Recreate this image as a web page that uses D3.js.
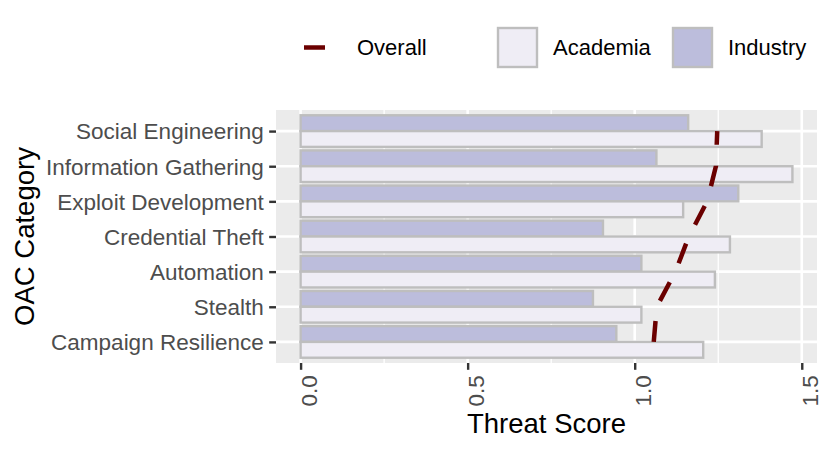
<!DOCTYPE html>
<html>
<head>
<meta charset="utf-8">
<script src="https://cdn.jsdelivr.net/npm/d3@7"></script>
<style>
  body { margin: 0; background: #fff; }
  text { font-family: "Liberation Sans", Arial, Helvetica, sans-serif; }
</style>
</head>
<body>
<svg id="chart" width="830" height="453"></svg>
<script>
// categories top to bottom
var categories = ['Social Engineering', 'Information Gathering', 'Exploit Development',
  'Credential Theft', 'Automation', 'Stealth', 'Campaign Resilience']
var industry = [1.16, 1.065, 1.31, 0.905, 1.02, 0.875, 0.945]
var academia = [1.38, 1.472, 1.145, 1.285, 1.24, 1.02, 1.205]
var overall = [1.247, 1.243, 1.217, 1.162, 1.122, 1.066, 1.057]
var xTicks = [0, 0.5, 1.0, 1.5]
var xMinor = [0.25, 0.75, 1.25]

var color = { Academia: '#efedf5', Industry: '#bcbddc', Overall: '#6b0000' }

var svg = d3.select('#chart')
var panel = { left: 276, right: 817, top: 110, bottom: 363 }

// continuous scale with 5% expansion like ggplot
var maxV = d3.max(academia.concat(industry, overall))
var pad = maxV * 0.05
var x = d3.scaleLinear().domain([0 - pad, maxV + pad]).range([panel.left, panel.right])
var y = d3.scalePoint().domain(categories).range([panel.top, panel.bottom]).padding(0.6)
var half = y.step() * 0.45

var rows = categories.map(function (c, i) {
  return { cat: c, industry: industry[i], academia: academia[i], overall: overall[i] }
})

// panel background + grid
svg.append('rect').attr('x', panel.left).attr('y', panel.top)
  .attr('width', panel.right - panel.left).attr('height', panel.bottom - panel.top)
  .attr('fill', '#ebebeb')

svg.selectAll('.minor').data(xMinor).enter().append('line')
  .attr('x1', d => x(d)).attr('x2', d => x(d))
  .attr('y1', panel.top).attr('y2', panel.bottom)
  .attr('stroke', '#fff').attr('stroke-width', 1.3)

svg.selectAll('.majorx').data(xTicks).enter().append('line')
  .attr('x1', d => x(d)).attr('x2', d => x(d))
  .attr('y1', panel.top).attr('y2', panel.bottom)
  .attr('stroke', '#fff').attr('stroke-width', 2.6)

svg.selectAll('.majory').data(categories).enter().append('line')
  .attr('x1', panel.left).attr('x2', panel.right)
  .attr('y1', d => y(d)).attr('y2', d => y(d))
  .attr('stroke', '#fff').attr('stroke-width', 2.6)

// bars: industry above, academia below the category line
var bars = svg.append('g')
bars.selectAll('.ind').data(rows).enter().append('rect')
  .attr('x', x(0)).attr('y', d => y(d.cat) - half)
  .attr('width', d => x(d.industry) - x(0)).attr('height', half)
  .attr('fill', color.Industry).attr('stroke', '#bebebe').attr('stroke-width', 2.4)

bars.selectAll('.aca').data(rows).enter().append('rect')
  .attr('x', x(0)).attr('y', d => y(d.cat))
  .attr('width', d => x(d.academia) - x(0)).attr('height', half)
  .attr('fill', color.Academia).attr('stroke', '#bebebe').attr('stroke-width', 2.4)

// overall dashed line, drawn from the bottom category upward
var line = d3.line().x(d => x(d.overall)).y(d => y(d.cat))
svg.append('path').datum(rows.slice().reverse())
  .attr('d', line).attr('fill', 'none')
  .attr('stroke', color.Overall).attr('stroke-width', 4.5)
  .attr('stroke-dasharray', '21,21')

// axes
var tickLen = 6.8
var xAxis = svg.append('g').attr('transform', 'translate(0,' + panel.bottom + ')')
  .call(d3.axisBottom(x).tickValues(xTicks).tickFormat(d3.format('.1f')).tickSize(tickLen).tickPadding(0))
xAxis.select('.domain').remove()
xAxis.selectAll('line').attr('stroke', '#333').attr('stroke-width', 2.4)
xAxis.selectAll('text')
  .attr('transform', 'rotate(-90)')
  .attr('x', -(tickLen + 5.5)).attr('y', 0).attr('dy', '0.72em')
  .attr('text-anchor', 'end')
  .style('font-size', '22.5px').attr('fill', '#4d4d4d')

var yAxis = svg.append('g').attr('transform', 'translate(' + panel.left + ',0)')
  .call(d3.axisLeft(y).tickSize(tickLen).tickPadding(5.5))
yAxis.select('.domain').remove()
yAxis.selectAll('line').attr('stroke', '#333').attr('stroke-width', 2.4)
yAxis.selectAll('text').attr('dy', '0.35em')
  .style('font-size', '22.5px').attr('fill', '#4d4d4d')

// axis titles
svg.append('text').attr('x', (panel.left + panel.right) / 2).attr('y', 433)
  .attr('text-anchor', 'middle').style('font-size', '27.5px').attr('fill', '#000')
  .text('Threat Score')

svg.append('text').attr('transform', 'translate(34,' + (panel.top + panel.bottom) / 2 + ') rotate(-90)')
  .attr('text-anchor', 'middle').style('font-size', '27.5px').attr('fill', '#000')
  .text('OAC Category')

// legend
var ly = 47.5
var legend = svg.append('g')
legend.append('line').attr('x1', 304).attr('x2', 325).attr('y1', ly).attr('y2', ly)
  .attr('stroke', color.Overall).attr('stroke-width', 4.5)
legend.append('text').attr('x', 357).attr('y', ly).attr('dy', '0.35em')
  .style('font-size', '22px').text('Overall')

var boxes = [{ key: 'Academia', x: 498 }, { key: 'Industry', x: 673 }]
boxes.forEach(function (b) {
  legend.append('rect').attr('x', b.x).attr('y', ly - 19.5).attr('width', 39).attr('height', 39)
    .attr('fill', color[b.key]).attr('stroke', '#bebebe').attr('stroke-width', 2.4)
  legend.append('text').attr('x', b.x + 55).attr('y', ly).attr('dy', '0.35em')
    .style('font-size', '22px').text(b.key)
})
</script>
</body>
</html>
